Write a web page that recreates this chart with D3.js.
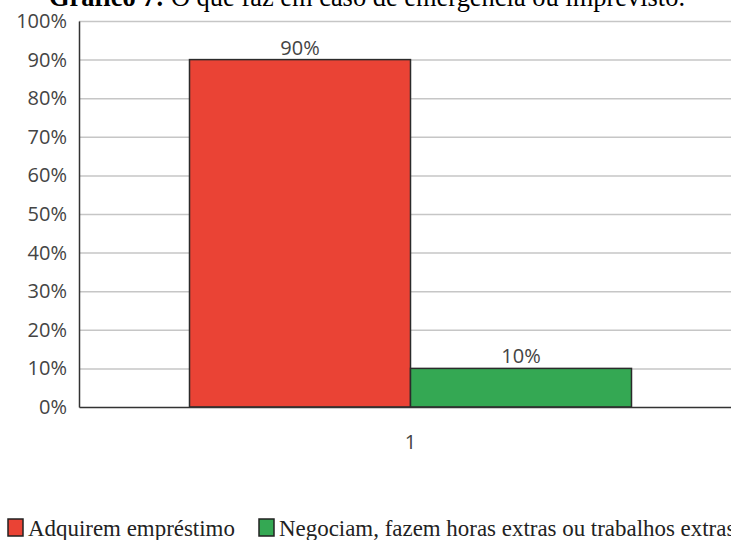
<!DOCTYPE html>
<html>
<head>
<meta charset="utf-8">
<script src="https://cdn.jsdelivr.net/npm/d3@7"></script>
<style>
  html, body { margin: 0; padding: 0; background: #fff; overflow: hidden; }
  svg { display: block; }
</style>
</head>
<body>
<div id="chart"></div>
<script>
// Survey answers: what respondents do in an emergency or unforeseen event
const categories = ["1"];
const seriesNames = ["Adquirem empréstimo", "Negociam, fazem horas extras ou trabalhos extras"];
const seriesValues = [0.90, 0.10];
const seriesColors = ["#ea4335", "#34a853"];
const yTicks = [0, 0.1, 0.2, 0.3, 0.4, 0.5, 0.6, 0.7, 0.8, 0.9, 1.0];

const width = 731, height = 540;
const margin = { top: 21, right: -11, bottom: 133, left: 79 };

const svg = d3.select("#chart").append("svg")
  .attr("width", width)
  .attr("height", height);

// Scale a text's font size so that it spans the given width
function fitWidth(sel, targetWidth) {
  const node = sel.node();
  const fs = parseFloat(sel.attr("font-size"));
  const w = node.getComputedTextLength();
  if (w > 0) sel.attr("font-size", (fs * targetWidth / w).toFixed(2));
  return sel;
}

// Title (runs off the top edge)
const title = svg.append("text")
  .attr("x", 49)
  .attr("y", 6)
  .attr("font-family", "'Liberation Serif', 'Times New Roman', serif")
  .attr("font-size", 26)
  .attr("fill", "#000");
title.append("tspan").attr("font-weight", "bold").text("Gráfico 7:");
title.append("tspan").text(" O que faz em caso de emergência ou imprevisto.");
fitWidth(title, 636);

const x0 = d3.scaleBand()
  .domain(categories)
  .range([margin.left, width - margin.right])
  .paddingInner(0)
  .paddingOuter(0.25);

const x1 = d3.scaleBand()
  .domain(seriesNames)
  .range([0, x0.bandwidth()])
  .padding(0);

const y = d3.scaleLinear()
  .domain([0, 1])
  .range([height - margin.bottom, margin.top]);

const fmt = d3.format(".0%");
const labelFont = "'Open Sans', 'DejaVu Sans', sans-serif";
const labelSize = 20;

// Horizontal gridlines
svg.append("g")
  .selectAll("line")
  .data(yTicks.filter(d => d > 0))
  .join("line")
  .attr("x1", margin.left)
  .attr("x2", width)
  .attr("y1", d => y(d) + 0.5)
  .attr("y2", d => y(d) + 0.5)
  .attr("stroke", "#c6c6c6")
  .attr("stroke-width", 1.5);

// Y axis
const yAxis = svg.append("g")
  .attr("transform", `translate(${margin.left},0)`)
  .call(d3.axisLeft(y).tickValues(yTicks).tickFormat(fmt).tickSize(0).tickPadding(12));
yAxis.select(".domain").attr("stroke", "#333").attr("stroke-width", 1.5);
yAxis.selectAll("text")
  .attr("font-family", labelFont)
  .attr("font-size", labelSize)
  .attr("fill", "#444");

// Bars
const groups = svg.append("g")
  .selectAll("g")
  .data(categories)
  .join("g")
  .attr("transform", d => `translate(${x0(d)},0)`);

const barData = seriesNames.map((name, i) => ({ name, value: seriesValues[i], color: seriesColors[i] }));

groups.selectAll("rect")
  .data(barData)
  .join("rect")
  .attr("x", d => x1(d.name))
  .attr("y", d => y(d.value))
  .attr("width", x1.bandwidth())
  .attr("height", d => y(0) - y(d.value))
  .attr("fill", d => d.color)
  .attr("stroke", "#2b2b2b")
  .attr("stroke-width", 1.5);

groups.selectAll("text.label")
  .data(barData)
  .join("text")
  .attr("class", "label")
  .attr("x", d => x1(d.name) + x1.bandwidth() / 2)
  .attr("y", d => y(d.value) - 5)
  .attr("text-anchor", "middle")
  .attr("font-family", labelFont)
  .attr("font-size", labelSize)
  .attr("fill", "#444")
  .text(d => fmt(d.value));

// X axis
const xAxis = svg.append("g")
  .attr("transform", `translate(0,${y(0)})`)
  .call(d3.axisBottom(x0).tickSize(0).tickPadding(28));
xAxis.select(".domain").attr("stroke", "#333").attr("stroke-width", 1.5);
xAxis.selectAll("text")
  .attr("font-family", labelFont)
  .attr("font-size", labelSize)
  .attr("fill", "#444");

// Legend
const legend = svg.append("g").attr("transform", "translate(8,519)");
const legendX = [0, 251];
const items = legend.selectAll("g")
  .data(barData)
  .join("g")
  .attr("transform", (d, i) => `translate(${legendX[i]},0)`);
items.append("rect")
  .attr("width", 15)
  .attr("height", 17)
  .attr("fill", d => d.color)
  .attr("stroke", "#222")
  .attr("stroke-width", 1.5);
const legendText = items.append("text")
  .attr("x", 20)
  .attr("y", 16.5)
  .attr("font-family", "'Liberation Serif', 'Times New Roman', serif")
  .attr("font-size", 22)
  .attr("fill", "#222")
  .text(d => d.name);
// Both entries share the size that makes the first one 207px wide
const firstText = d3.select(legendText.nodes()[0]);
fitWidth(firstText, 207);
legendText.attr("font-size", firstText.attr("font-size"));
</script>
</body>
</html>
